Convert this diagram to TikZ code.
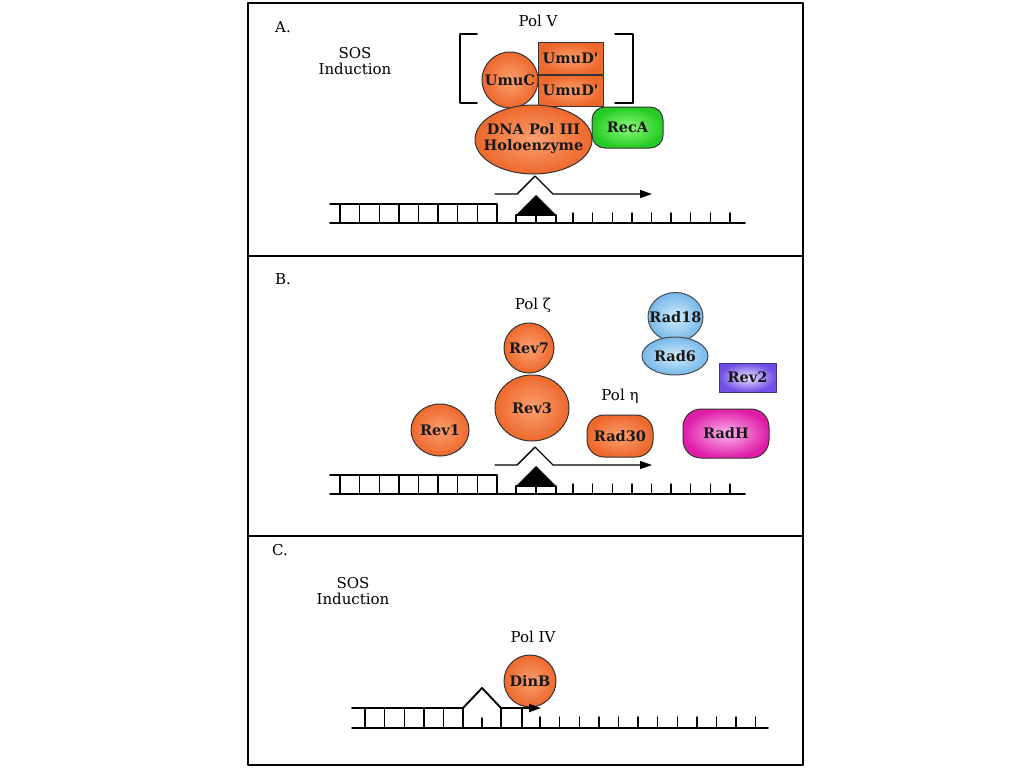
\documentclass[tikz,border=0pt]{standalone}
\usepackage{fontspec}
\setmainfont{DejaVu Serif}
\usetikzlibrary{shapes.geometric,arrows.meta,positioning}
\definecolor{polorange}{RGB}{238,104,44}
\definecolor{pollight}{RGB}{250,160,112}
\definecolor{recgreen}{RGB}{36,204,36}
\definecolor{reclight}{RGB}{140,248,120}
\definecolor{radblue}{RGB}{118,184,234}
\definecolor{radlight}{RGB}{210,237,252}
\definecolor{revviolet}{RGB}{112,78,228}
\definecolor{revlight}{RGB}{234,226,253}
\definecolor{radhpink}{RGB}{224,28,168}
\definecolor{radhlight}{RGB}{252,182,238}
\newcommand\inbox[1]{\makebox[0pt]{#1}}
\tikzset{
	prot/.style={draw=black!80, line width=1pt, inner sep=0pt, text=black!90,
		font=\fontsize{14.5}{15.5}\selectfont\bfseries, inner color=pollight, outer color=polorange},
	greenp/.style={inner color=reclight, outer color=recgreen},
	bluep/.style={inner color=radlight, outer color=radblue, draw=black!70},
	violetp/.style={inner color=revlight, outer color=revviolet, draw=revviolet!60!black},
	pinkp/.style={inner color=radhlight, outer color=radhpink},
	dnaline/.style={line width=1.9pt},
	rung/.style={line width=1.4pt}
}
\begin{document}
\begin{tikzpicture}[x=1pt, y=-1pt, font=\fontsize{15}{16}\selectfont, line join=round, line cap=round, >={Triangle[length=12pt,width=8pt]}]
	\pgfmathsetmacro{\s}{19.6}
	\useasboundingbox (0,0) rectangle (1024,768);
	\draw[line width=1.6pt] (248,3)coordinate(tl) rectangle (803,765)coordinate(br);
	\draw[line width=1.6pt] (tl|-0,256)--(br|-0,256) (tl|-0,536)--(br|-0,536);
	\node (labA) at (283,27) {A.};
	\node (labB) at (283,279) {B.};
	\node (labC) at (280,550) {C.};
	\node[align=center] (sosA) at (355,61) {SOS\\Induction};
	\node[align=center] (sosC) at (353,591) {SOS\\Induction};
	\node (polV) at (538,21) {Pol V};
	\node (polZ) at (533,305) {Pol ζ};
	\node (polE) at (620,396) {Pol η};
	\node (polIV) at (533,637) {Pol IV};
	\draw[line width=1.5pt] (477,34)--(460,34)--(460,103)--(477,103)
		(615,34)--(633,34)--(633,103)--(615,103);
	\node[prot, circle, minimum size=56pt] (umuC) at (510,80) {UmuC};
	\node[prot, rectangle, minimum width=65pt, minimum height=31pt] (umuDa) at (570.5,58.5) {UmuD\textquotesingle};
	\node[prot, rectangle, minimum width=65pt, minimum height=31pt, below=0pt of umuDa] (umuDb) {UmuD\textquotesingle};
	\node[prot, ellipse, minimum width=117pt, minimum height=69pt] (pol3) at (533.5,139.5)
		{\inbox{\begin{tabular}{@{}c@{}}DNA Pol III\\Holoenzyme\end{tabular}}};
	\node[prot, greenp, rectangle, rounded corners=13pt, minimum width=71pt, minimum height=41pt] (recA) at (627.5,127.5) {RecA};
	\node[prot, circle, minimum size=50pt] (rev7) at (529,348) {Rev7};
	\node[prot, ellipse, minimum width=74pt, minimum height=66pt] (rev3) at (532,408) {Rev3};
	\node[prot, ellipse, minimum width=58pt, minimum height=52pt] (rev1) at (440,430) {\inbox{Rev1}};
	\node[prot, rectangle, rounded corners=17pt, minimum width=66pt, minimum height=42pt] (rad30) at (620,436) {Rad30};
	\node[prot, bluep, ellipse, minimum width=55pt, minimum height=49pt] (rad18) at (675.5,317) {\inbox{Rad18}};
	\node[prot, bluep, ellipse, minimum width=66pt, minimum height=38pt] (rad6) at (675,356) {\inbox{Rad6}};
	\node[prot, violetp, rectangle, minimum width=57pt, minimum height=29pt] (rev2) at (747.5,377.5) {Rev2};
	\node[prot, pinkp, rectangle, rounded corners=18pt, minimum width=86pt, minimum height=49pt] (radH) at (726,433.5) {RadH};
	\node[prot, circle, minimum size=52pt] (dinB) at (530,681) {DinB};
	\foreach \dy/\p in {0/A,271/B}{
		\draw[dnaline] (330,{223+\dy})coordinate(\p0)--(745,{223+\dy})coordinate(\p1);
		\draw[dnaline] (330,{204+\dy})--(497,{204+\dy})--(497,{223+\dy});
		\foreach \i in {0,...,7} \draw[rung] ({340+\s*\i},{204+\dy})--++(0,19);
		\draw[rung] (516,{223+\dy})|-(556,{215+\dy})--(556,{223+\dy}) (536,{215+\dy})--(536,{223+\dy});
		\fill (516,{215+\dy})--(536,{195+\dy})--(556,{215+\dy})--cycle;
		\foreach \i in {0,...,8} \draw[rung] ({573+\s*\i},{213+\dy})--++(0,10);
		\draw[line width=1.4pt,->] (495,{194+\dy})--(517,{194+\dy})--(535,{176+\dy})--(553,{194+\dy})--(652,{194+\dy});
	}
	\draw[dnaline] (352,728)coordinate(C0)--(768,728)coordinate(C1);
	\draw[dnaline,->] (352,708)--(463,708)--(482,688)--(501,708)--(541,708);
	\foreach \i in {0,...,5} \draw[rung] ({365+\s*\i},708)--++(0,20);
	\draw[rung] (501,708)--++(0,20) (522,708)--++(0,20) (482,718)--++(0,10);
	\foreach \i in {0,...,11} \draw[rung] ({540+\s*\i},717)--++(0,11);
\end{tikzpicture}
\end{document}
